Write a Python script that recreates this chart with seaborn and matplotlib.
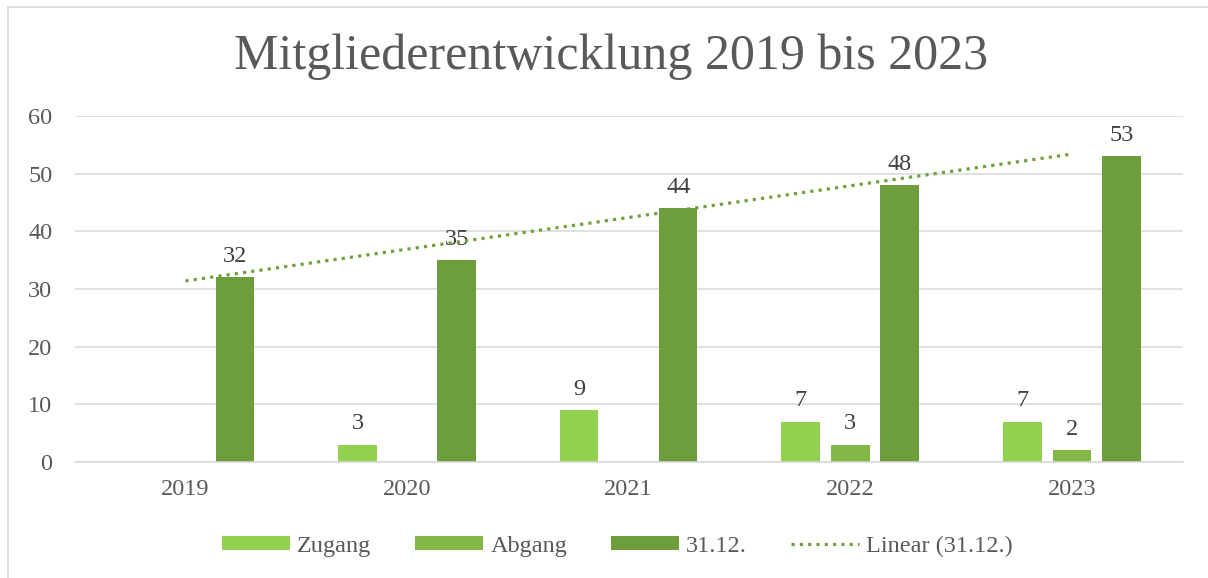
import numpy as np
import pandas as pd
import matplotlib
matplotlib.use("Agg")
import matplotlib.pyplot as plt
from matplotlib.patches import Patch
from matplotlib.lines import Line2D
import seaborn as sns

# data
years = ["2019", "2020", "2021", "2022", "2023"]
zugang = [np.nan, 3, 9, 7, 7]
abgang = [np.nan, np.nan, np.nan, 3, 2]
stand = [32, 35, 44, 48, 53]
series = ["Zugang", "Abgang", "31.12."]
colors = ["#92D050", "#84B94A", "#6E9D3B"]
trend_color = "#70A03C"

sns.set_theme(style="white")
plt.rcParams["font.family"] = ["Liberation Serif", "DejaVu Serif"]

df = pd.DataFrame({
    "Jahr": years * 3,
    "Serie": [s for s in series for _ in years],
    "Wert": zugang + abgang + stand,
})

fig = plt.figure(figsize=(12.08, 5.78), dpi=100)
ax = fig.add_axes([0.0618, 0.2007, 0.9172, 0.5986])

sns.barplot(data=df, x="Jahr", y="Wert", hue="Serie", hue_order=series,
            order=years, palette=colors, saturation=1, width=0.67, gap=0.22,
            legend=False, ax=ax, edgecolor="none")

for cont in ax.containers:
    labels = [f"{v:.0f}" if v > 0 else "" for v in cont.datavalues]
    ax.bar_label(cont, labels=labels, padding=7.5, fontsize=17.5, color="#404040")

# linear trend of the 31.12. series (Excel "Linear" trendline)
xs = np.arange(len(years))
slope, icpt = np.polyfit(xs, stand, 1)
ax.plot(xs, slope * xs + icpt, color=trend_color, lw=2.3,
        linestyle=(0, (1, 1.6)), zorder=5)

ax.set_ylim(0, 60)
ax.set_xlim(-0.5, len(years) - 0.5)
ax.set_yticks(range(0, 61, 10))
ax.yaxis.grid(True, color="#D9D9D9", lw=1.1)
ax.set_axisbelow(True)
for s in ["left", "right", "top"]:
    ax.spines[s].set_visible(False)
ax.spines["bottom"].set_color("#D9D9D9")
ax.spines["bottom"].set_linewidth(1.1)
ax.tick_params(axis="y", length=0, pad=16, labelsize=17.5, labelcolor="#595959")
ax.tick_params(axis="x", length=0, pad=12, labelsize=17.5, labelcolor="#595959")
ax.set_xlabel("")
ax.set_ylabel("")

fig.text(0.506, 1 - 57 / 578, "Mitgliederentwicklung 2019 bis 2023",
         ha="center", va="center", fontsize=36, color="#595959")

handles = [Patch(facecolor=c, edgecolor="none") for c in colors]
handles.append(Line2D([0], [0], color=trend_color, lw=2.3, linestyle=(0, (1, 1.6))))
fig.legend(handles, series + ["Linear (31.12.)"], loc="center",
           bbox_to_anchor=(0.511, 1 - 546 / 578), ncol=4, frameon=False,
           fontsize=17.5, labelcolor="#595959", handlelength=2.8,
           handleheight=0.5, handletextpad=0.3, columnspacing=1.8)

# chart border (top and left edges visible in the reference)
fig.add_artist(Line2D([8 / 1208, 1], [1 - 7 / 578, 1 - 7 / 578],
                      color="#D9D9D9", lw=1.2))
fig.add_artist(Line2D([8 / 1208, 8 / 1208], [0, 1 - 7 / 578],
                      color="#D9D9D9", lw=1.2))

fig.savefig("out.png", dpi=100)
